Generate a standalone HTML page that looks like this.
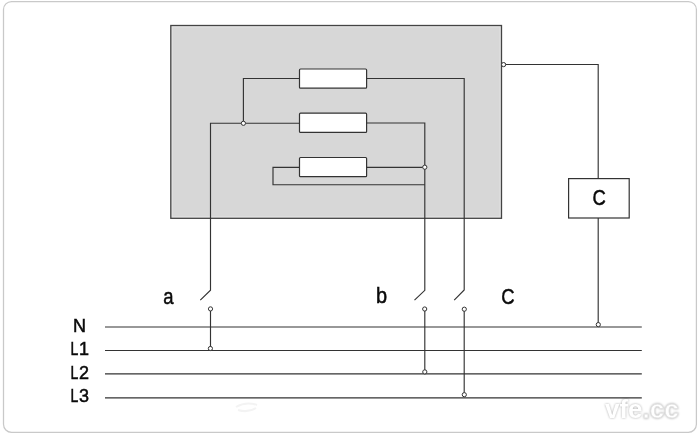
<!DOCTYPE html>
<html><head><meta charset="utf-8">
<style>
html,body{margin:0;padding:0;background:#fff;width:700px;height:435px;overflow:hidden}
svg{display:block;will-change:transform}
text{font-family:"Liberation Sans",sans-serif;fill:#0a0a0a;stroke:#0a0a0a;stroke-width:0.5}
</style></head>
<body>
<svg width="700" height="435" viewBox="0 0 700 435">
<!-- outer frame -->
<rect x="3.5" y="1.5" width="692.9" height="430.8" rx="8" ry="8" fill="#fff" stroke="#c9c9c9" stroke-width="1.25"/>
<!-- gray box -->
<rect x="170.8" y="25.5" width="330.7" height="192.8" fill="#d7d7d7" stroke="#444" stroke-width="1.3"/>
<rect x="172.4" y="27.1" width="327.5" height="189.6" fill="none" stroke="#e0e0e0" stroke-width="0.9"/>
<g fill="none" stroke="#333" stroke-width="1.15">
<!-- wires -->
<polyline points="299.5,78.5 243.4,78.5 243.4,123.2"/>
<polyline points="299.5,123.2 210.5,123.2 210.5,290.2 200.3,300.2"/>
<polyline points="366.6,78.5 464.2,78.5 464.2,290 454.2,300.2"/>
<polyline points="366.6,123 424.8,123 424.8,290.3 414.5,300.2"/>
<polyline points="299.5,167.3 273,167.3 273,184.7 424.8,184.7"/>
<line x1="366.6" y1="167.3" x2="424.8" y2="167.3"/>
<polyline points="501.5,64.5 598.2,64.5 598.2,178.6"/>
<line x1="598.2" y1="218" x2="598.2" y2="324.6"/>
<!-- switch contacts -->
<line x1="210.5" y1="309" x2="210.5" y2="348.5"/>
<line x1="424.8" y1="309" x2="424.8" y2="371.9"/>
<line x1="464.2" y1="309.2" x2="464.2" y2="394.7"/>
<!-- bus lines -->
<line x1="105" y1="327" x2="641.8" y2="327"/>
<line x1="105" y1="350.5" x2="641.8" y2="350.5"/>
<line x1="105" y1="373.9" x2="641.8" y2="373.9"/>
<line x1="105" y1="397.8" x2="641.8" y2="397.8"/>
</g>
<!-- resistors -->
<g fill="#fff" stroke="#333" stroke-width="1.2">
<rect x="299.5" y="69" width="67.1" height="19.2" rx="1"/>
<rect x="299.5" y="113.2" width="67.1" height="19.2" rx="1"/>
<rect x="299.5" y="157.5" width="67.1" height="19.2" rx="1"/>
<rect x="568.6" y="178.6" width="60.6" height="39.4"/>
</g>
<!-- nodes -->
<g fill="#fff" stroke="#333" stroke-width="1">
<circle cx="243.4" cy="123.3" r="2.1"/>
<circle cx="424.8" cy="167.2" r="2.1"/>
<circle cx="503.6" cy="64.6" r="2.1"/>
<circle cx="210.5" cy="308.9" r="2.1"/>
<circle cx="210.4" cy="348.5" r="2.1"/>
<circle cx="424.7" cy="309" r="2.1"/>
<circle cx="424.8" cy="371.9" r="2.1"/>
<circle cx="464.3" cy="309.2" r="2.1"/>
<circle cx="464.3" cy="394.7" r="2.1"/>
<circle cx="598.3" cy="324.6" r="2.1"/>
</g>
<!-- labels -->
<text transform="translate(592.5,204.5) scale(0.84,1)" font-size="22">C</text>
<text transform="translate(163.3,303.8) scale(0.88,1.04)" font-size="21">a</text>
<text transform="translate(376,302.9) scale(0.95,1.08)" font-size="21">b</text>
<text transform="translate(501.3,303.5) scale(0.84,1)" font-size="22">C</text>
<text x="73" y="331.5" font-size="18">N</text>
<text transform="translate(70.6,355) scale(0.78,1)" font-size="18">L</text><text x="79" y="355" font-size="18">1</text>
<text transform="translate(70.6,378.5) scale(0.78,1)" font-size="18">L</text><text x="79" y="378.5" font-size="18">2</text>
<text transform="translate(70.6,401.5) scale(0.78,1)" font-size="18">L</text><text x="79" y="401.5" font-size="18">3</text>
<!-- watermark -->
<path d="M236,407 Q246,401 257,405 M238,410 Q248,413 256,408" fill="none" stroke="#f3f3f3" stroke-width="2"/>
<text x="605" y="417.5" font-size="26" font-weight="bold" style="fill:#fff;stroke:none;filter:drop-shadow(0.6px 0.9px 1px rgba(0,0,0,0.33))">vfe<tspan style="stroke:#e2e2e2;stroke-width:0.8">.cc</tspan></text>
</svg>
</body></html>
